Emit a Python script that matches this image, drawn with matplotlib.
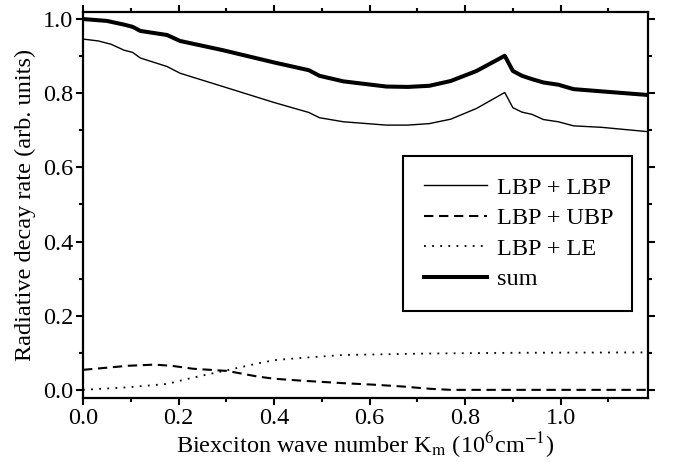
import numpy as np
import matplotlib
matplotlib.use("Agg")
import matplotlib.pyplot as plt
from matplotlib.ticker import MultipleLocator

plt.rcParams['font.family'] = ['Liberation Serif', 'DejaVu Serif']
plt.rcParams['mathtext.fontset'] = 'stix'

# data
k_lbp = [0.0, 0.032, 0.059, 0.086, 0.104, 0.12, 0.176, 0.203, 0.293, 0.40, 0.473, 0.495,
         0.545, 0.635, 0.68, 0.725, 0.77, 0.824, 0.883, 0.90, 0.919, 0.94, 0.964, 0.995,
         1.027, 1.086, 1.185]
lbp_lbp = [0.946, 0.941, 0.932, 0.916, 0.910, 0.895, 0.872, 0.854, 0.818, 0.775, 0.748, 0.734,
           0.723, 0.714, 0.714, 0.718, 0.730, 0.759, 0.802, 0.761, 0.749, 0.743, 0.729, 0.723,
           0.712, 0.708, 0.696]

k_sum = [0.0, 0.05, 0.086, 0.104, 0.12, 0.176, 0.203, 0.293, 0.40, 0.473, 0.495, 0.545,
         0.635, 0.68, 0.725, 0.77, 0.824, 0.883, 0.90, 0.919, 0.94, 0.964, 0.995, 1.027,
         1.086, 1.185]
total = [1.0, 0.995, 0.985, 0.979, 0.968, 0.957, 0.941, 0.916, 0.883, 0.862, 0.847, 0.832,
         0.818, 0.817, 0.820, 0.833, 0.860, 0.901, 0.860, 0.847, 0.838, 0.829, 0.823, 0.811,
         0.805, 0.795]

k_ubp = [0.0, 0.095, 0.149, 0.185, 0.23, 0.302, 0.365, 0.40, 0.455, 0.545, 0.608, 0.67,
         0.725, 0.77, 0.9, 1.185]
lbp_ubp = [0.054, 0.065, 0.068, 0.065, 0.057, 0.051, 0.036, 0.030, 0.025, 0.018, 0.014, 0.009,
           0.003, 0.0, 0.0, 0.0]

k_le = [0.0, 0.095, 0.176, 0.23, 0.302, 0.365, 0.40, 0.455, 0.545, 0.635, 0.725, 0.905, 1.185]
lbp_le = [0.0, 0.007, 0.016, 0.033, 0.053, 0.071, 0.080, 0.086, 0.094, 0.096, 0.098, 0.100, 0.101]

fs = 17.5

fig = plt.figure(figsize=(6.73, 4.62), dpi=100)
ax = fig.add_axes([0.1233, 0.1385, 0.8396, 0.8355])

ax.plot(k_lbp, lbp_lbp, '-', color='black', lw=1.0, label='LBP + LBP')
ax.plot(k_ubp, lbp_ubp, color='black', lw=1.5, dashes=(4.5, 2.7), label='LBP + UBP')
ax.plot(k_le, lbp_le, color='black', lw=1.3, dashes=(1, 3.5), label='LBP + LE')
ax.plot(k_sum, total, '-', color='black', lw=2.9, label='sum')

ax.set_xlim(0, 1.183)
ax.set_ylim(-0.022, 1.019)
ax.xaxis.set_major_locator(MultipleLocator(0.2))
ax.xaxis.set_minor_locator(MultipleLocator(0.1))
ax.yaxis.set_major_locator(MultipleLocator(0.2))
ax.yaxis.set_minor_locator(MultipleLocator(0.1))
ax.xaxis.set_major_formatter(plt.FormatStrFormatter('%.1f'))
ax.yaxis.set_major_formatter(plt.FormatStrFormatter('%.1f'))
ax.tick_params(which='both', direction='out', top=True, right=True, width=1.5,
               labelsize=fs, pad=2)
ax.tick_params(which='major', length=5)
ax.tick_params(which='minor', length=3)
for s in ax.spines.values():
    s.set_linewidth(1.6)

ax.set_xlabel(r'Biexciton wave number K$_{\mathrm{m}}$ (10$^{6}$cm$^{-1}$)', fontsize=fs, labelpad=1)
ax.set_ylabel('Radiative decay rate (arb. units)', fontsize=fs, labelpad=5)

leg = ax.legend(loc='upper left', bbox_to_anchor=(0.567, 0.222, 0.405, 0.405), mode='expand',
                fontsize=fs, frameon=True, fancybox=False, edgecolor='black',
                handlelength=2.6, handletextpad=0.4, labelspacing=0.35, borderpad=0.85,
                borderaxespad=0)
leg.get_frame().set_linewidth(1.5)
leg.get_frame().set_facecolor('white')
leg.get_frame().set_alpha(1)

fig.savefig('out.png', dpi=100)
